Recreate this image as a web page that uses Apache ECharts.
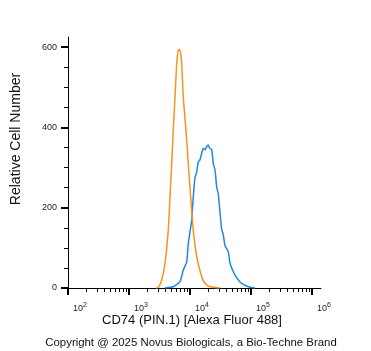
<!DOCTYPE html>
<html><head><meta charset="utf-8">
<script src="https://cdn.jsdelivr.net/npm/echarts@6/dist/echarts.min.js"></script>
<style>html,body{margin:0;padding:0;background:#fff}#c{width:371px;height:351px}</style>
</head><body><div id="c"></div>
<script>
// x values are log10 of fluorescence intensity (decades)
const xTickExponents = [2, 3, 4, 5, 6];
const yTickValues = [0, 200, 400, 600];
const orangeLogX = [3.443, 3.480, 3.536, 3.590, 3.644, 3.672, 3.700, 3.726, 3.754, 3.782, 3.803, 3.825, 3.844, 3.864, 3.890, 3.934, 3.972, 4.011, 4.054, 4.110, 4.192, 4.246, 4.328, 4.492];
const orangeCount = [0, 1, 20, 61, 144, 227, 310, 393, 476, 559, 588, 594, 588, 559, 476, 393, 310, 227, 144, 78, 28, 12, 3, 0];
const blueLogX = [3.590, 3.726, 3.836, 3.890, 3.946, 3.972, 4.028, 4.054, 4.082, 4.110, 4.136, 4.164, 4.189, 4.218, 4.246, 4.270, 4.300, 4.320, 4.356, 4.382, 4.410, 4.438, 4.464, 4.492, 4.520, 4.546, 4.574, 4.628, 4.656, 4.689, 4.738, 4.820, 4.874, 4.984, 5.066];
const blueCount = [0, 3, 16, 45, 65, 111, 169, 227, 274, 289, 314, 319, 334, 348, 344, 351, 356, 349, 344, 310, 294, 252, 234, 188, 146, 132, 106, 90, 62, 48, 32, 15, 9, 2, 0];

const zip = (a, b) => a.map((v, i) => [v, b[i]]);
const xMinor = [];
for (let d = 2; d < 6; d++) for (let k = 2; k <= 9; k++) xMinor.push(d + Math.log10(k));
const yMinor = [];
for (let v = 50; v < 625; v += 50) if (v % 200 !== 0) yMinor.push(v);

const X_MIN = 2, X_MAX = 6.148, Y_MIN = 0, Y_MAX = 625;
const font = '"Liberation Sans", Arial, sans-serif';
const chart = echarts.init(document.getElementById('c'), null, {renderer: 'canvas'});
chart.setOption({
  animation: false,
  grid: {left: 68, right: 50, top: 37, bottom: 63},
  xAxis: [{
    type: 'value', min: X_MIN, max: X_MAX, position: 'bottom',
    axisLine: {lineStyle: {color: '#000', width: 1}},
    axisTick: {show: true, length: 7, customValues: xTickExponents, lineStyle: {color: '#000', width: 2}},
    splitLine: {show: false},
    axisLabel: {
      margin: 14, padding: [0, 0, 0, 24], color: '#222', fontFamily: font,
      customValues: xTickExponents,
      formatter: v => '{b|10}{s|' + Math.round(v) + '}',
      rich: {b: {fontSize: 9, fontFamily: font, color: '#222'}, s: {fontSize: 7, fontFamily: font, color: '#222', padding: [0, 0, 6, 0]}}
    }
  }, {
    type: 'value', min: X_MIN, max: X_MAX, position: 'bottom',
    axisLine: {show: false},
    axisTick: {show: true, length: 4, customValues: xMinor, lineStyle: {color: '#000'}},
    axisLabel: {show: false}, splitLine: {show: false}
  }],
  yAxis: [{
    type: 'value', min: Y_MIN, max: Y_MAX, position: 'left',
    axisLine: {show: true, lineStyle: {color: '#000', width: 1}},
    axisTick: {show: true, length: 7, customValues: yTickValues, lineStyle: {color: '#000', width: 2}},
    splitLine: {show: false},
    axisLabel: {margin: 11, fontSize: 9, color: '#222', fontFamily: font, customValues: yTickValues}
  }, {
    type: 'value', min: Y_MIN, max: Y_MAX, position: 'left',
    axisLine: {show: false},
    axisTick: {show: true, length: 4, customValues: yMinor, lineStyle: {color: '#000'}},
    axisLabel: {show: false}, splitLine: {show: false}
  }],
  series: [
    {type: 'line', xAxisIndex: 0, yAxisIndex: 0, data: zip(blueLogX, blueCount), showSymbol: false, smooth: 0.2, lineStyle: {color: '#1F88E5', width: 1.5}, itemStyle: {color: '#1F88E5'}},
    {type: 'line', xAxisIndex: 0, yAxisIndex: 0, data: zip(orangeLogX, orangeCount), showSymbol: false, smooth: 0.2, lineStyle: {color: '#F7931E', width: 1.5}, itemStyle: {color: '#F7931E'}}
  ],
  graphic: [
    {type: 'text', x: 16, y: 139, rotation: Math.PI / 2, style: {text: 'Relative Cell Number', font: '14px ' + font, fill: '#111', textAlign: 'center', textVerticalAlign: 'middle', align: 'center', verticalAlign: 'middle'}},
    {type: 'text', x: 192, y: 320, style: {text: 'CD74 (PIN.1) [Alexa Fluor 488]', font: '13px ' + font, fill: '#111', textAlign: 'center', textVerticalAlign: 'middle', align: 'center', verticalAlign: 'middle'}},
    {type: 'text', x: 191, y: 343, style: {text: 'Copyright @ 2025 Novus Biologicals, a Bio-Techne Brand', font: '11.4px ' + font, fill: '#111', textAlign: 'center', textVerticalAlign: 'middle', align: 'center', verticalAlign: 'middle'}}
  ]
});
</script>
</body></html>
